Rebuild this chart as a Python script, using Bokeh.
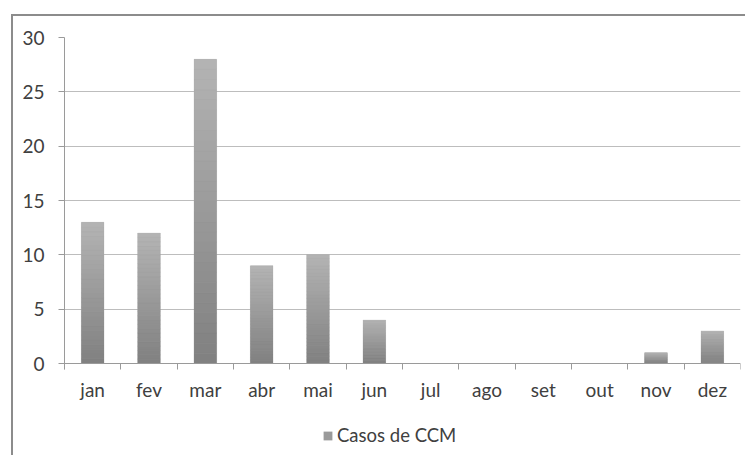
import numpy as np
from bokeh.plotting import figure
from bokeh.layouts import column, row
from bokeh.models import FixedTicker, Legend, LegendItem, Range1d, ColumnDataSource, Spacer
from bokeh.embed import file_html
from bokeh.resources import INLINE

months = ["jan", "fev", "mar", "abr", "mai", "jun", "jul", "ago", "set", "out", "nov", "dez"]
casos = [13, 12, 28, 9, 10, 4, 0, 0, 0, 0, 1, 3]
y_ticks = [0, 5, 10, 15, 20, 25, 30]
series_name = "Casos de CCM"

FONT = "Lato"
TXT = "#404040"
AXC = "#9a9a9a"
BORDER = "#8c8c8c"

p = figure(width=742, height=448, output_backend="svg", toolbar_location=None,
           x_range=Range1d(0, 12), y_range=Range1d(-8.28, 30),
           min_border_left=61, min_border_right=5, min_border_top=30, min_border_bottom=2)
# chart-area border (top and left edges visible in the window), drawn behind a transparent canvas border
p.styles = {
    "background-color": "white",
    "background-image": f"linear-gradient({BORDER},{BORDER}), linear-gradient({BORDER},{BORDER})",
    "background-size": "100% 2px, 2px 100%",
    "background-position": "8px 7px, 8px 7px",
    "background-repeat": "no-repeat",
}
p.outline_line_color = None
p.background_fill_color = "white"
p.border_fill_alpha = 0

centers = [i + 0.5 for i in range(len(months))]
half = 0.2

# base bars (mid gray), then gradient slices on top: light on top, dark at bottom
base = ColumnDataSource(dict(left=[c - half for c in centers], right=[c + half for c in centers],
                             top=casos))
p.quad(left="left", right="right", bottom=0, top="top", source=base,
       fill_color="#9a9a9a", line_color=None)

N = 30
top_c = np.array([180, 180, 180])
bot_c = np.array([128, 128, 128])
L, R, B, T, C = [], [], [], [], []
for x, v in zip(centers, casos):
    if v <= 0:
        continue
    for k in range(N):
        col = bot_c + (top_c - bot_c) * (k + 0.5) / N
        L.append(x - half); R.append(x + half)
        B.append(v * k / N); T.append(v * (k + 1) / N)
        C.append("#%02x%02x%02x" % tuple(int(round(c)) for c in col))
src = ColumnDataSource(dict(left=L, right=R, bottom=B, top=T, color=C))
p.quad(left="left", right="right", bottom="bottom", top="top", source=src,
       fill_color="color", line_color="color", line_width=0.3)

proxy = p.quad(left=[0], right=[0], bottom=[0], top=[0], fill_color="#9a9a9a", line_color=None)

# axes
xt = FixedTicker(ticks=centers, minor_ticks=list(range(len(months) + 1)))
p.xaxis.ticker = xt
p.xaxis.fixed_location = 0
p.xaxis.major_label_overrides = {c: m for c, m in zip(centers, months)}
p.xaxis.major_tick_line_color = None
p.xaxis.minor_tick_in = 0
p.xaxis.minor_tick_out = 6
p.xaxis.minor_tick_line_color = AXC
p.xaxis.axis_line_color = AXC
p.xaxis.major_label_standoff = 8
p.yaxis.ticker = FixedTicker(ticks=y_ticks)
p.yaxis.bounds = (-0.55, 30)
p.yaxis.major_tick_in = 0
p.yaxis.major_tick_out = 6
p.yaxis.major_tick_line_color = AXC
p.yaxis.minor_tick_line_color = None
p.yaxis.axis_line_color = AXC
p.yaxis.major_label_standoff = 14
for ax in (p.xaxis, p.yaxis):
    ax.major_label_text_font = FONT
    ax.major_label_text_font_size = "19px"
    ax.major_label_text_color = TXT

p.xgrid.visible = False
p.ygrid.ticker = FixedTicker(ticks=[t for t in y_ticks if t > 0])
p.ygrid.grid_line_color = "#bdbdbd"

legend = Legend(items=[LegendItem(label=series_name, renderers=[proxy])],
                location=(258, 7), orientation="horizontal",
                border_line_color=None, background_fill_alpha=0,
                label_text_font=FONT, label_text_font_size="18.5px", label_text_color=TXT,
                glyph_width=11, glyph_height=11, label_standoff=4, padding=0, margin=0)
p.add_layout(legend)

layout = column(Spacer(height=7), row(Spacer(width=3), p))
open("out.html", "w").write(file_html(layout, INLINE))
